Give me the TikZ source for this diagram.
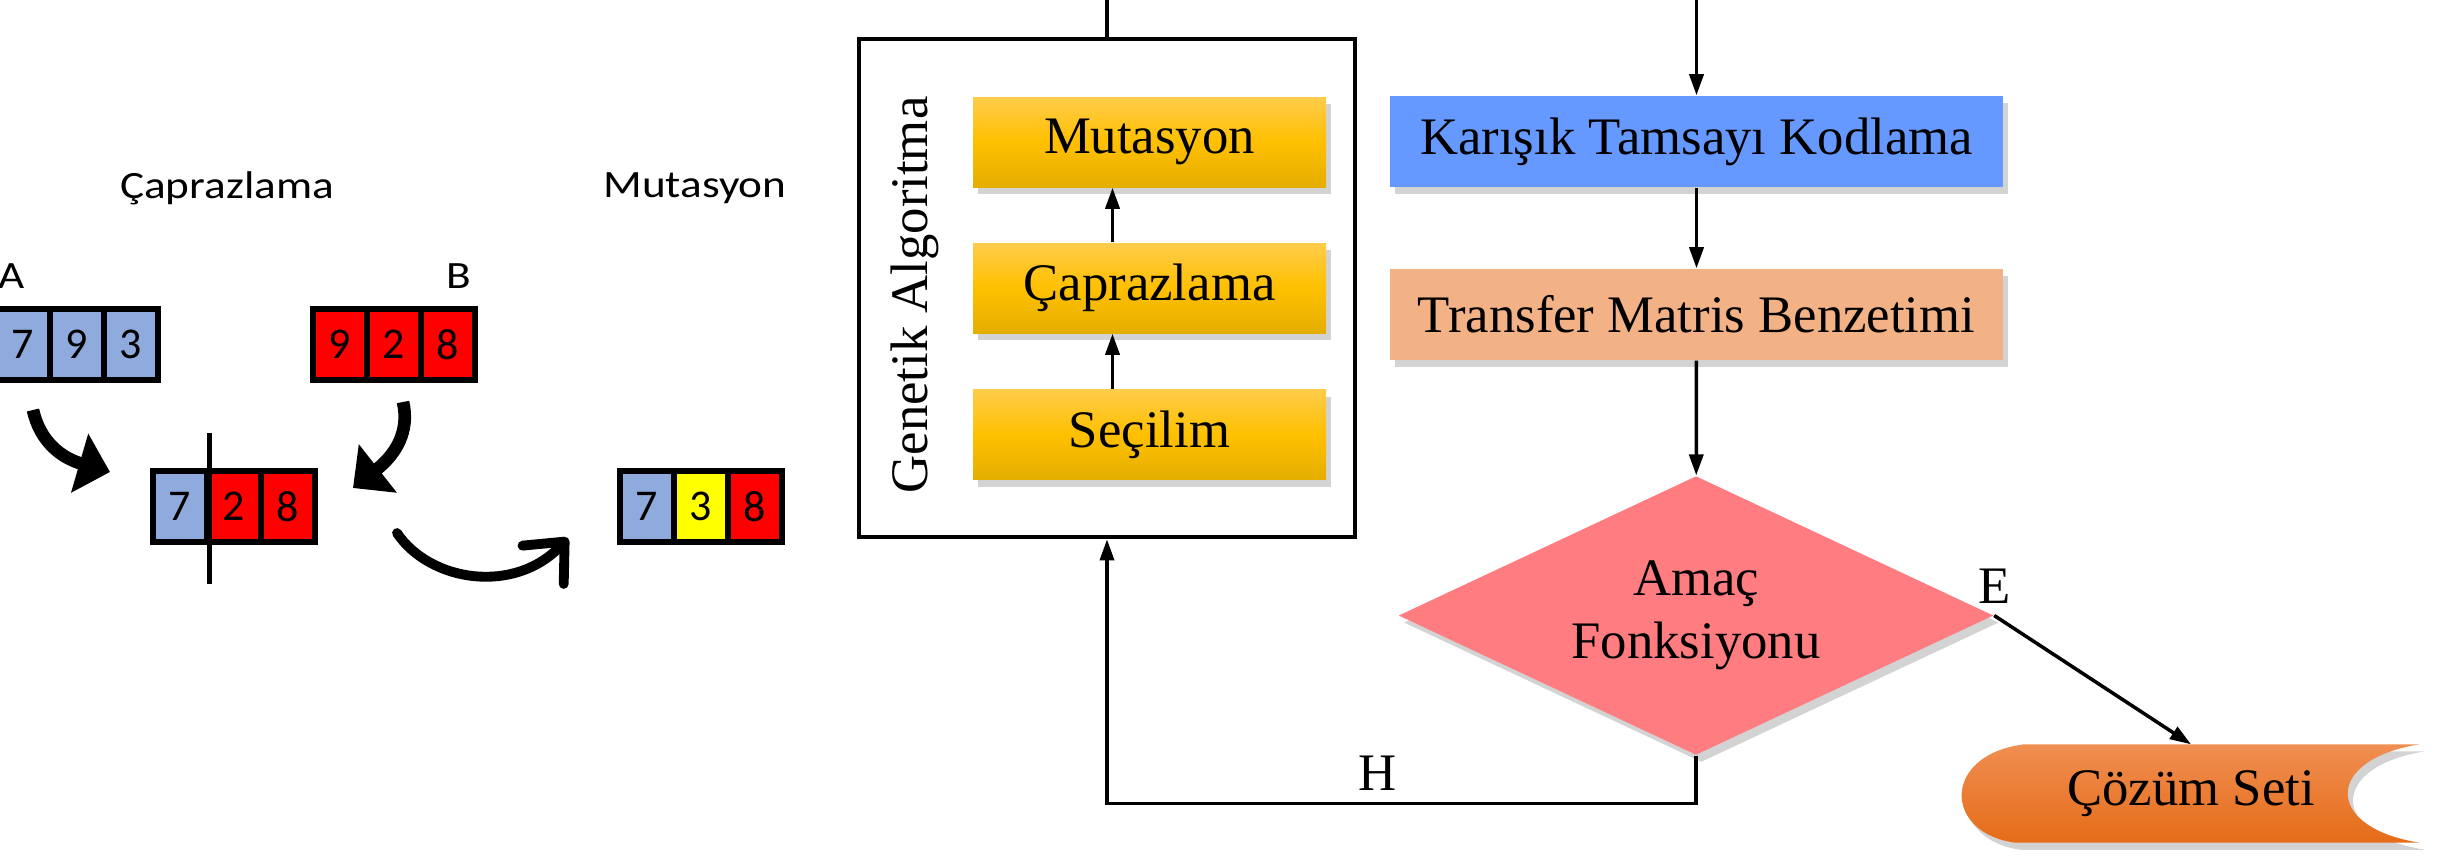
\documentclass[tikz,border=0pt]{standalone}
\usepackage{fontspec}
\setmainfont{Liberation Serif}
\newfontfamily\calibri[FakeStretch=1.17]{Carlito}
\newfontfamily\calibridig{Carlito}
\usepackage{tikz}
\usetikzlibrary{
  calc, shapes, shadows, backgrounds, arrows.meta
}

\definecolor{cellblue}{RGB}{143,170,220}
\definecolor{cellred}{RGB}{255,0,0}
\definecolor{cellyellow}{RGB}{255,255,0}
\definecolor{gatop}{RGB}{255,204,75}
\definecolor{gamid}{RGB}{255,192,0}
\definecolor{gabot}{RGB}{228,174,0}
\definecolor{kodblue}{RGB}{102,153,255}
\definecolor{tmbsalmon}{RGB}{243,177,134}
\definecolor{amacpink}{RGB}{255,124,128}
\definecolor{cozumtop}{RGB}{240,142,82}
\definecolor{cozumbot}{RGB}{229,108,24}

\begin{document}
\begin{tikzpicture}[x=1cm, y=-1cm, font=\fontsize{15}{18}\selectfont]
  \useasboundingbox (0,0) rectangle (24.53,8.62);
  \tikzstyle{cell}=[draw, line width=1.5pt, minimum width=0.54cm, minimum height=0.71cm, inner sep=0, font=\calibridig\fontsize{12.5}{14}\selectfont]
  \tikzstyle{cali}=[font=\calibri\fontsize{11}{13}\selectfont]
  \tikzstyle{bigarrow}=[line width=3.6pt, -{Triangle[length=9pt,width=17pt]}]
  \tikzstyle{hookarrow}=[line width=2.8pt, line cap=round, -{Straight Barb[length=9pt,width=16pt,round]}]
  \tikzstyle{soft}=[drop shadow={shadow xshift=1.5pt, shadow yshift=-2pt, opacity=0.35}]
  \tikzstyle{gastep}=[soft, top color=gatop, bottom color=gabot, middle color=gamid, minimum width=3.53cm, minimum height=0.9cm]
  \tikzstyle{flowbox}=[soft, minimum width=6.13cm, minimum height=0.91cm]
  \tikzstyle{line}=[line width=1pt]
  \tikzstyle{arrow}=[line width=1pt, -{Triangle[length=6pt,width=4pt]}]

  \pgfmathsetmacro{\w}{0.54}
  \pgfmathsetmacro{\off}{0.37}

  % crossover and mutation sketch
  \node (caplabel) [cali] at (2.27,1.88) {Çaprazlama};
  \node (mutlabel) [cali] at (6.95,1.88) {Mutasyon};
  \node (alabel) [cali] at (0.12,2.76) {A};
  \node (blabel) [cali] at (4.59,2.76) {B};

  \foreach \d/\c [count=\i] in {7/cellblue,9/cellblue,3/cellblue}
    \node (a\i) [cell, fill=\c] at ({0.23+\w*(\i-1)}, 3.445) {\d};
  \foreach \d/\c [count=\i] in {9/cellred,2/cellred,8/cellred}
    \node (b\i) [cell, fill=\c] at ({3.40+\w*(\i-1)}, 3.445) {\d};
  \foreach \d/\c [count=\i] in {7/cellblue,2/cellred,8/cellred}
    \node (c\i) [cell, fill=\c] at ({1.80+\w*(\i-1)}, 5.065) {\d};
  \foreach \d/\c [count=\i] in {7/cellblue,3/cellyellow,8/cellred}
    \node (m\i) [cell, fill=\c] at ({6.47+\w*(\i-1)}, 5.065) {\d};

  \draw[line width=1.4pt] ([yshift=0.35cm]c1.north east) -- ([yshift=-0.39cm]c1.south east);

  \draw[bigarrow] (0.33,4.10) .. controls (0.40,4.42) and (0.62,4.58) .. (1.10,4.72);
  \draw[bigarrow] (4.03,4.02) .. controls (4.10,4.32) and (3.95,4.55) .. (3.53,4.88);
  \draw[hookarrow] (3.97,5.33) .. controls (4.30,5.82) and (5.15,5.95) .. (5.68,5.38);

  % flowchart
  \coordinate (topedge) at (0,0);
  \node (ga) [draw, line width=1.3pt, minimum width=4.96cm, minimum height=4.98cm] at (11.07,2.88) {};
  \node (galabel) [rotate=90] at (9.15,2.95) {Genetik Algoritma};

  \node (mut) [gastep] at (11.495,1.42) {Mutasyon};
  \node (cap) [gastep] at (11.495,2.88) {Çaprazlama};
  \node (sec) [gastep] at (11.495,4.345) {Seçilim};
  \draw[arrow] ([xshift=-\off cm]sec.north) -- ([xshift=-\off cm]cap.south);
  \draw[arrow] ([xshift=-\off cm]cap.north) -- ([xshift=-\off cm]mut.south);

  \node (kod) [flowbox, fill=kodblue] at (16.965,1.415) {Karışık Tamsayı Kodlama};
  \node (tmb) [flowbox, fill=tmbsalmon] at (16.965,3.145) {Transfer Matris Benzetimi};
  \node (amac) [diamond, soft, fill=amacpink, aspect=2.13, minimum width=5.95cm, minimum height=2.79cm, inner sep=0, align=center] at (16.96,6.155) {Amaç\\Fonksiyonu};

  \node (cozum) [minimum width=4.56cm, minimum height=0.97cm, inner sep=0] at (21.91,7.935) {Çözüm Seti};
  \begin{scope}[on background layer]
    \path[soft, top color=cozumtop, bottom color=cozumbot]
      ([xshift=0.62cm]cozum.north west) -- (cozum.north east)
      .. controls ([xshift=-0.96cm,yshift=-0.15cm]cozum.north east) and ([xshift=-0.96cm,yshift=0.15cm]cozum.south east) .. (cozum.south east)
      -- ([xshift=0.53cm]cozum.south west)
      .. controls ([xshift=-0.2cm,yshift=0.1cm]cozum.south west) and ([xshift=-0.2cm,yshift=-0.1cm]cozum.north west) .. cycle;
  \end{scope}

  \draw[line] (ga.north) -- (ga.north |- topedge);
  \draw[arrow] (kod.north |- topedge) -- (kod.north);
  \draw[arrow] (kod) -- (tmb);
  \draw[arrow] (tmb) -- (amac);
  \draw[arrow] (amac.south) -- ++(0,0.48) -| (ga.south) node[pos=0.27, above] {H};
  \draw[arrow] (amac.east) -- (cozum.north);
  \node (elabel) [above] at (amac.east) {E};

\end{tikzpicture}
\end{document}
